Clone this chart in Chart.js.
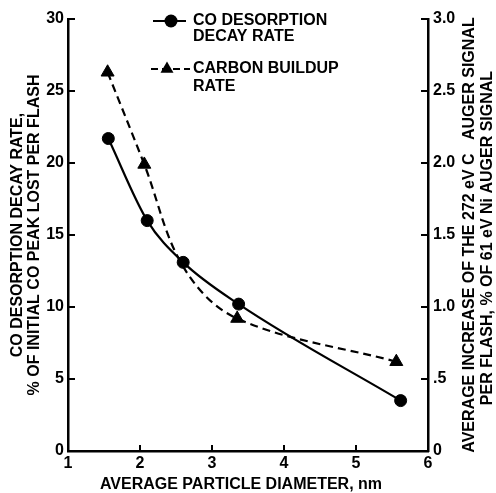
<!DOCTYPE html>
<html>
<head>
<meta charset="utf-8">
<script src="https://cdn.jsdelivr.net/npm/chart.js@4/dist/chart.umd.min.js"></script>
<style>
  html, body { margin: 0; padding: 0; background: #fff; }
  #wrap { width: 496px; height: 493px; position: relative; }
</style>
</head>
<body>
<div id="wrap"><canvas id="chart"></canvas></div>
<script>
// CO desorption decay rate (left axis, %)
const coDiameter = [1.56, 2.1, 2.6, 3.37, 5.62];
const coDecayRate = [21.7, 16.0, 13.1, 10.2, 3.5];

// Carbon buildup rate (right axis, %)
const carbonDiameter = [1.55, 2.06, 2.6, 3.35, 5.56];
const carbonBuildup = [2.63, 1.99, 1.28, 0.92, 0.62];
const carbonMarker = [7.5, 7.5, 0, 7.5, 7.5];

const xTicks = [1, 2, 3, 4, 5, 6];
const leftTicks = [0, 5, 10, 15, 20, 25, 30];
const rightTickLabels = ['0', '.5', '1.0', '1.5', '2.0', '2.5', '3.0'];

const leftTitle = ['CO DESORPTION DECAY RATE,', '% OF INITIAL CO PEAK LOST PER FLASH'];
const rightTitle = ['AVERAGE INCREASE OF THE 272 eV C   AUGER SIGNAL', 'PER FLASH, % OF 61 eV Ni AUGER SIGNAL'];
const xTitle = 'AVERAGE PARTICLE DIAMETER, nm';
const legendCO = ['CO DESORPTION', 'DECAY RATE'];
const legendCarbon = ['CARBON BUILDUP', 'RATE'];

const FONT = '"Liberation Sans", Arial, sans-serif';
const boldFont = { family: FONT, size: 16, weight: 'bold' };

function toPoints(xs, ys) {
    return xs.map((x, i) => ({ x: x, y: ys[i] }));
}

// titles, legend and inward tick marks
const extras = {
    id: 'extras',
    afterDatasetsDraw(chart) {
        const ctx = chart.ctx;
        const area = chart.chartArea;
        const sx = chart.scales.x, sl = chart.scales.y, sr = chart.scales.y2;

        ctx.save();
        ctx.strokeStyle = '#000';
        ctx.lineWidth = 2;
        ctx.beginPath();
        sl.ticks.forEach(t => {
            const y = sl.getPixelForValue(t.value);
            ctx.moveTo(area.left, y); ctx.lineTo(area.left + 7, y);
        });
        sr.ticks.forEach(t => {
            const y = sr.getPixelForValue(t.value);
            ctx.moveTo(area.right, y); ctx.lineTo(area.right - 7, y);
        });
        sx.ticks.forEach(t => {
            const x = sx.getPixelForValue(t.value);
            ctx.moveTo(x, area.bottom); ctx.lineTo(x, area.bottom - 6);
        });
        ctx.stroke();
        ctx.restore();

        ctx.save();
        ctx.fillStyle = '#000';
        ctx.font = 'bold 16px ' + FONT;
        ctx.textAlign = 'center';
        ctx.textBaseline = 'middle';

        // x title
        ctx.fillText(xTitle, 241, 485);

        // left title
        const cy = (area.top + area.bottom) / 2;
        ctx.save();
        ctx.translate(18, cy);
        ctx.rotate(-Math.PI / 2);
        ctx.fillText(leftTitle[0], 0, 0);
        ctx.fillText(leftTitle[1], 0, 17);
        ctx.restore();

        // right title (reads bottom to top)
        ctx.save();
        ctx.translate(470, cy);
        ctx.rotate(-Math.PI / 2);
        ctx.fillText(rightTitle[0], 0, 0);
        ctx.fillText(rightTitle[1], -3, 18);
        ctx.restore();

        // legend
        ctx.textAlign = 'left';
        ctx.lineWidth = 2.2;
        ctx.beginPath();
        ctx.moveTo(153, 21); ctx.lineTo(186, 21);
        ctx.stroke();
        ctx.beginPath();
        ctx.arc(171, 21, 6.5, 0, Math.PI * 2);
        ctx.fill();
        ctx.fillText(legendCO[0], 193, 21);
        ctx.fillText(legendCO[1], 193, 37);

        ctx.setLineDash([7, 4]);
        ctx.beginPath();
        ctx.moveTo(151, 69); ctx.lineTo(190, 69);
        ctx.stroke();
        ctx.setLineDash([]);
        const r = 7.5;
        ctx.beginPath();
        ctx.moveTo(167, 69 - r);
        ctx.lineTo(167 + r * Math.sin(Math.PI * 2 / 3), 69 + r / 2);
        ctx.lineTo(167 - r * Math.sin(Math.PI * 2 / 3), 69 + r / 2);
        ctx.closePath();
        ctx.fill();
        ctx.fillText(legendCarbon[0], 193, 69);
        ctx.fillText(legendCarbon[1], 193, 87);
        ctx.restore();
    }
};

const ctx = document.getElementById('chart').getContext('2d');
new Chart(ctx, {
    type: 'line',
    data: {
        datasets: [
            {
                label: 'CO DESORPTION DECAY RATE',
                data: toPoints(coDiameter, coDecayRate),
                yAxisID: 'y',
                borderColor: '#000',
                backgroundColor: '#000',
                borderWidth: 2.2,
                pointStyle: 'circle',
                pointRadius: 6,
                pointBorderWidth: 1,
                cubicInterpolationMode: 'monotone',
                fill: false
            },
            {
                label: 'CARBON BUILDUP RATE',
                data: toPoints(carbonDiameter, carbonBuildup),
                yAxisID: 'y2',
                borderColor: '#000',
                backgroundColor: '#000',
                borderWidth: 2.2,
                borderDash: [8, 5],
                pointStyle: 'triangle',
                pointRadius: carbonMarker,
                pointBorderWidth: 1,
                tension: 0.35,
                fill: false
            }
        ]
    },
    options: {
        responsive: true,
        maintainAspectRatio: false,
        animation: false,
        layout: { padding: { top: 19, left: 0, right: 0, bottom: 0 } },
        plugins: {
            legend: { display: false },
            tooltip: { enabled: false }
        },
        scales: {
            x: {
                type: 'linear',
                min: 1,
                max: 6,
                afterFit: s => { s.height = 42; },
                afterBuildTicks: s => { s.ticks = xTicks.map(v => ({ value: v })); },
                ticks: { font: boldFont, color: '#000', padding: 3, maxRotation: 0 },
                grid: { display: false, drawTicks: false },
                border: { display: true, color: '#000', width: 2.5 }
            },
            y: {
                type: 'linear',
                position: 'left',
                min: 0,
                max: 30,
                afterFit: s => { s.width = 68; },
                afterBuildTicks: s => { s.ticks = leftTicks.map(v => ({ value: v })); },
                ticks: { font: boldFont, color: '#000', padding: 4 },
                grid: { display: false, drawTicks: false },
                border: { display: true, color: '#000', width: 2.5 }
            },
            y2: {
                type: 'linear',
                position: 'right',
                min: 0,
                max: 3,
                afterFit: s => { s.width = 68; },
                afterBuildTicks: s => { s.ticks = rightTickLabels.map((l, i) => ({ value: i * 0.5 })); },
                ticks: {
                    font: boldFont,
                    color: '#000',
                    padding: 5,
                    callback: (v, i) => rightTickLabels[i]
                },
                grid: { display: false, drawTicks: false },
                border: { display: true, color: '#000', width: 2.5 }
            }
        }
    },
    plugins: [extras]
});
</script>
</body>
</html>
